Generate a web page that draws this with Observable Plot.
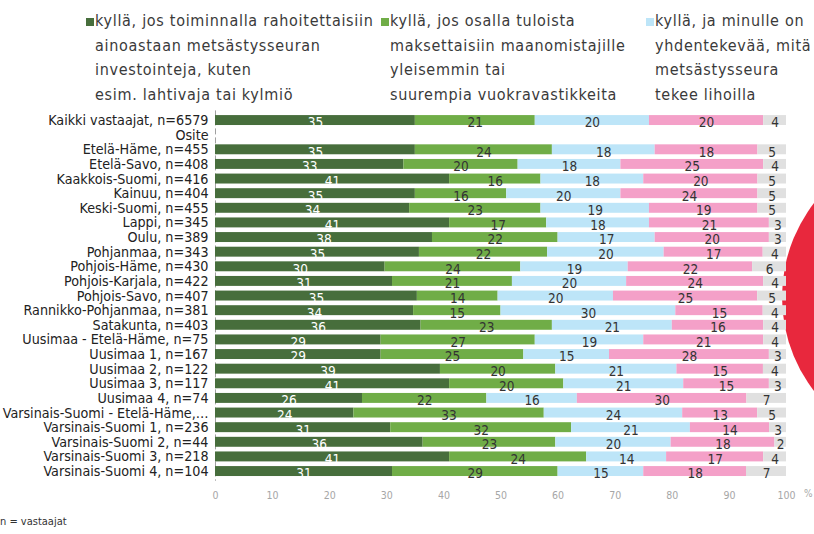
<!DOCTYPE html>
<html><head><meta charset="utf-8">
<script src="https://cdn.jsdelivr.net/npm/d3@7"></script>
<script src="https://cdn.jsdelivr.net/npm/@observablehq/plot@0.6"></script>
<style>
body{margin:0;width:814px;height:534px;overflow:hidden;position:relative;background:#fff;font-family:"DejaVu Sans Condensed","DejaVu Sans",sans-serif;color:#333;}
#circle{position:absolute;left:782px;top:143px;width:308px;height:308px;border-radius:50%;background:#e8283d;}
#chart{position:absolute;left:0;top:0;}
.leg{position:absolute;top:9px;font-size:16px;letter-spacing:0.7px;line-height:24.7px;color:#3a3a3a;white-space:nowrap;}
.leg .sw{position:absolute;left:-9px;top:9px;width:8px;height:8px;}
#pct{position:absolute;left:804px;top:488px;font-size:10px;color:#a6a6a6;}
#note{position:absolute;left:0;top:515px;font-size:11px;color:#333;}
</style></head><body>
<div id="circle"></div>
<div id="chart"></div>
<div id="legend"></div>
<div id="pct">%</div>
<div id="note">n = vastaajat</div>
<script>
const categories = ["Kaikki vastaajat, n=6579","Osite","Etelä-Häme, n=455","Etelä-Savo, n=408","Kaakkois-Suomi, n=416","Kainuu, n=404","Keski-Suomi, n=455","Lappi, n=345","Oulu, n=389","Pohjanmaa, n=343","Pohjois-Häme, n=430","Pohjois-Karjala, n=422","Pohjois-Savo, n=407","Rannikko-Pohjanmaa, n=381","Satakunta, n=403","Uusimaa - Etelä-Häme, n=75","Uusimaa 1, n=167","Uusimaa 2, n=122","Uusimaa 3, n=117","Uusimaa 4, n=74","Varsinais-Suomi - Etelä-Häme,…","Varsinais-Suomi 1, n=236","Varsinais-Suomi 2, n=44","Varsinais-Suomi 3, n=218","Varsinais-Suomi 4, n=104"];
const s1 = [35,null,35,33,41,35,34,41,38,35,30,31,35,34,36,29,29,39,41,26,24,31,36,41,31];
const s2 = [21,null,24,20,16,16,23,17,22,22,24,21,14,15,23,27,25,20,20,22,33,32,23,24,29];
const s3 = [20,null,18,18,18,20,19,18,17,20,19,20,20,30,21,19,15,21,21,16,24,21,20,14,15];
const s4 = [20,null,18,25,20,24,19,21,20,17,22,24,25,15,16,21,28,15,15,30,13,14,18,17,18];
const s5 = [4,null,5,4,5,5,5,3,3,4,6,4,5,4,4,4,3,4,3,7,5,3,2,4,7];
const seriesNames = ["kyllä, jos toiminnalla rahoitettaisiin ainoastaan metsästysseuran investointeja, kuten esim. lahtivaja tai kylmiö","kyllä, jos osalla tuloista maksettaisiin maanomistajille yleisemmin tai suurempia vuokravastikkeita","kyllä, ja minulle on yhdentekevää, mitä metsästysseura tekee lihoilla","sarja 4","sarja 5"];
const legendLines = [
  ["kyllä, jos toiminnalla rahoitettaisiin","ainoastaan metsästysseuran","investointeja, kuten","esim. lahtivaja tai kylmiö"],
  ["kyllä, jos osalla tuloista","maksettaisiin maanomistajille","yleisemmin tai","suurempia vuokravastikkeita"],
  ["kyllä, ja minulle on","yhdentekevää, mitä","metsästysseura","tekee lihoilla"]
];
const colors = ["#476e3c","#70ad47","#bde5f8","#f4a0c8","#e0e0e0"];
const xTicks = [0,10,20,30,40,50,60,70,80,90,100];

const series = [s1,s2,s3,s4,s5];
const rows = [];
categories.forEach((c,i)=>series.forEach((s,j)=>{ if(s[i]!=null) rows.push({cat:c, series:seriesNames[j], k:j, value:s[i]}); }));

// legend
const legLeft = [95,390,655];
const legEl = document.getElementById("legend");
legendLines.forEach((lines,i)=>{
  const d = document.createElement("div");
  d.className = "leg"; d.style.left = legLeft[i]+"px";
  d.innerHTML = '<span class="sw" style="background:'+colors[i]+'"></span>' + lines.join("<br>");
  legEl.appendChild(d);
});

const stackOpts = {x:"value", y:"cat", z:"series", offset:"normalize"};
const chart = Plot.plot({
  width:814, height:534,
  marginLeft:215, marginRight:28, marginTop:110.4, marginBottom:53.3,
  style:{fontFamily:'"DejaVu Sans Condensed","DejaVu Sans",sans-serif', background:"transparent", color:"#222"},
  x:{percent:true, domain:[0,100]},
  y:{domain:categories, padding:0.32, round:false},
  color:{domain:seriesNames, range:colors},
  marks:[
    Plot.ruleX(xTicks, {stroke:"#a0a0a0", strokeDasharray:"6,3"}),
    Plot.barX(rows, Plot.stackX({...stackOpts, fill:"series"})),
    Plot.text(rows, Plot.stackX({...stackOpts, text:d=>d.k===0?String(d.value):"", fill:"white", fontSize:13.5, dy:2.5})),
    Plot.text(rows, Plot.stackX({...stackOpts, text:d=>d.k===0?"":String(d.value), fill:"#333", fontSize:13.5, dy:2.5})),
    Plot.axisY({tickSize:0, tickPadding:7, fontSize:14.2, fill:"#222", label:null}),
    Plot.axisX({ticks:xTicks, tickSize:0, tickPadding:10, fontSize:10.5, fill:"#a6a6a6", label:null})
  ]
});
document.getElementById("chart").appendChild(chart);
</script>
</body></html>
